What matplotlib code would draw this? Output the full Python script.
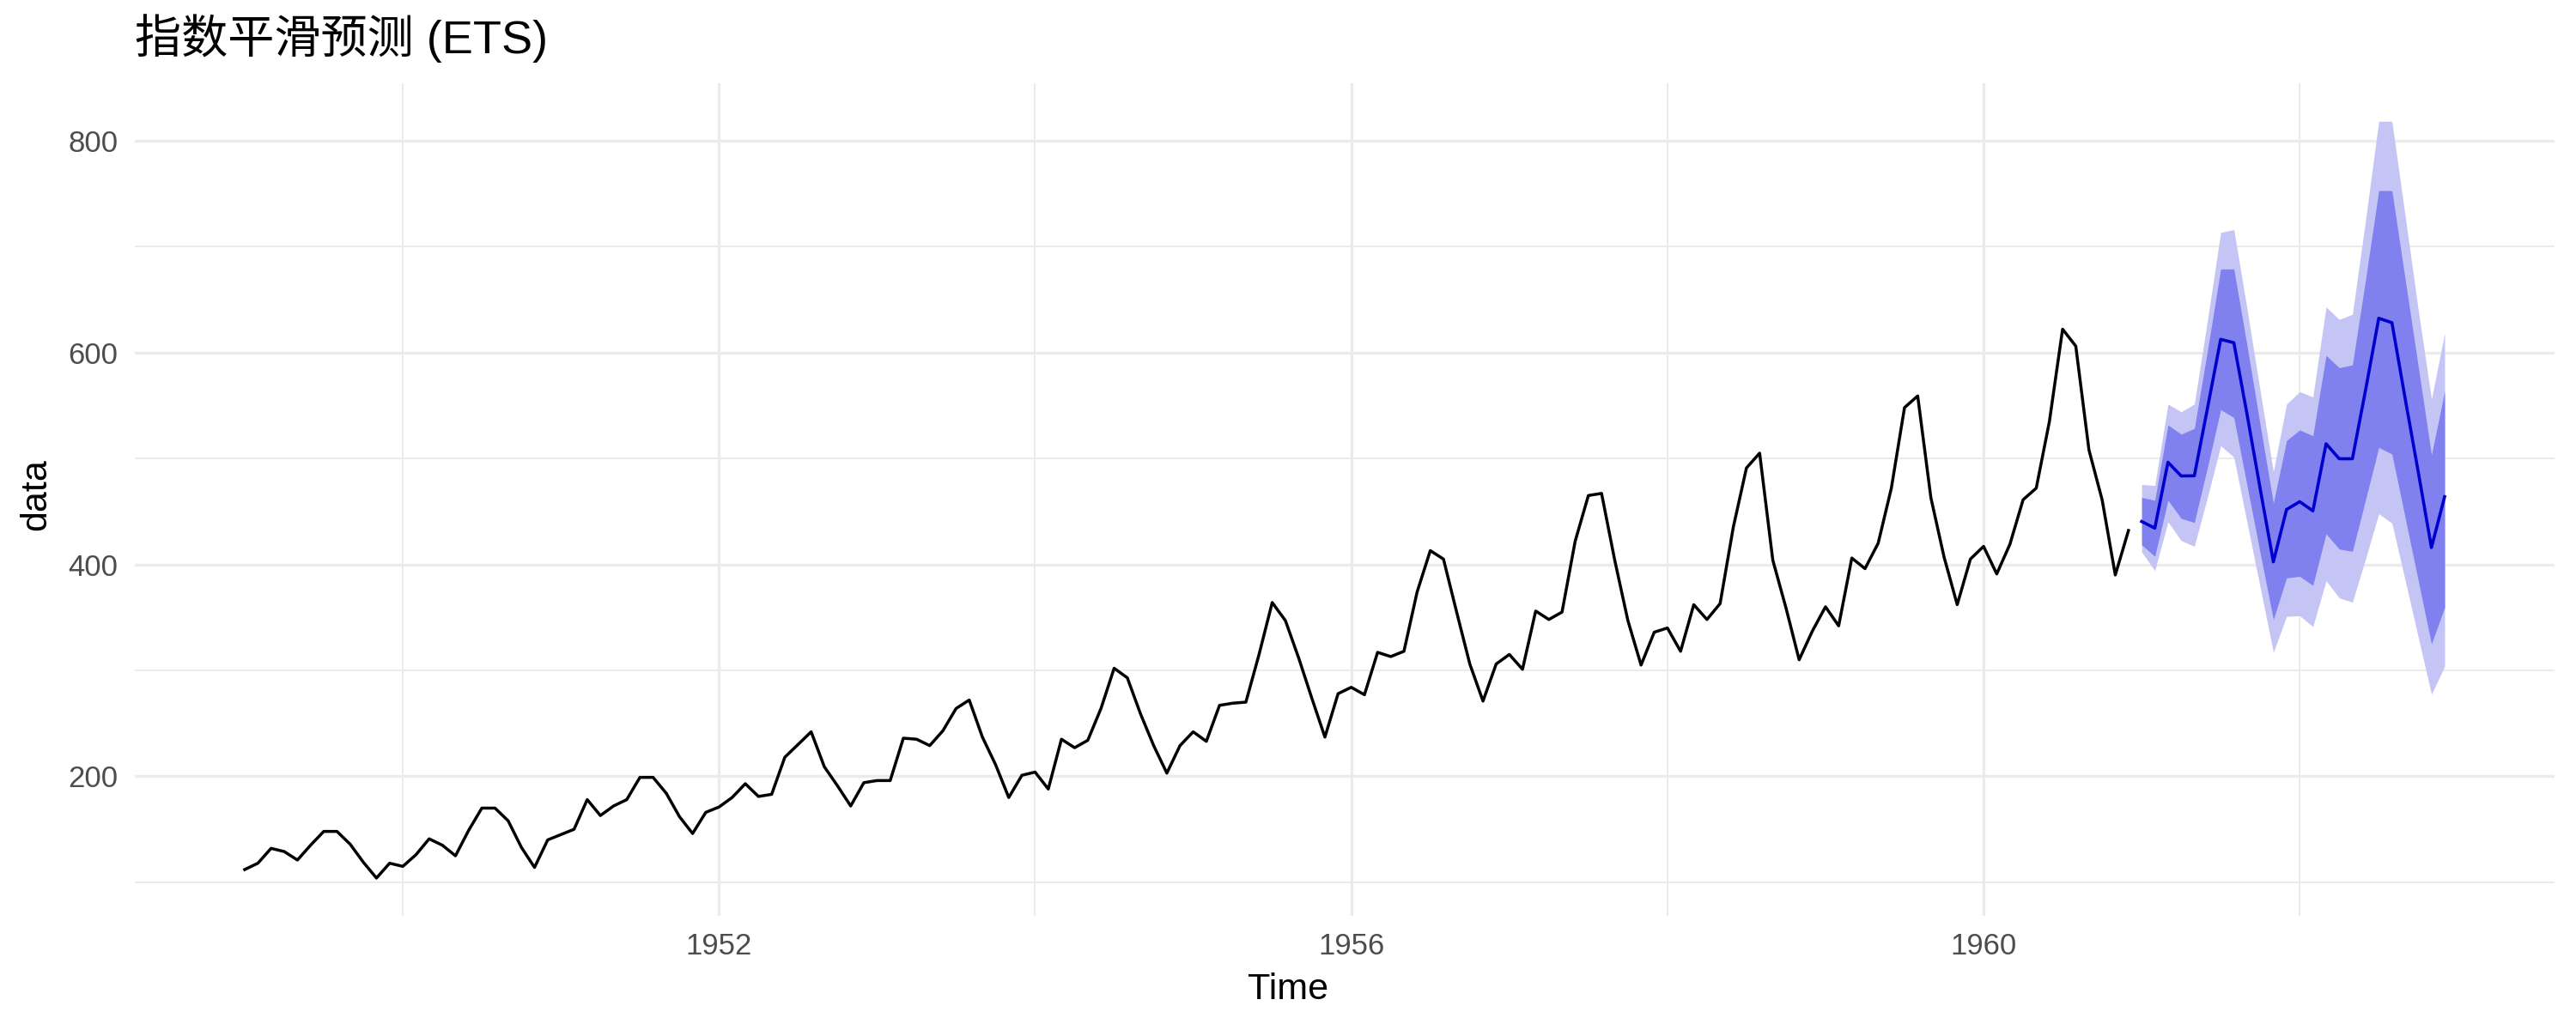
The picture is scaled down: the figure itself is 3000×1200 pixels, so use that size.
import numpy as np
import matplotlib
matplotlib.use("Agg")
import matplotlib.pyplot as plt
from matplotlib.ticker import FixedLocator

plt.rcParams['font.family'] = ['Liberation Sans', 'Noto Sans CJK SC', 'DejaVu Sans']

# monthly passengers 1949-1960
passengers = [
    112, 118, 132, 129, 121, 135, 148, 148, 136, 119, 104, 118,
    115, 126, 141, 135, 125, 149, 170, 170, 158, 133, 114, 140,
    145, 150, 178, 163, 172, 178, 199, 199, 184, 162, 146, 166,
    171, 180, 193, 181, 183, 218, 230, 242, 209, 191, 172, 194,
    196, 196, 236, 235, 229, 243, 264, 272, 237, 211, 180, 201,
    204, 188, 235, 227, 234, 264, 302, 293, 259, 229, 203, 229,
    242, 233, 267, 269, 270, 315, 364, 347, 312, 274, 237, 278,
    284, 277, 317, 313, 318, 374, 413, 405, 355, 306, 271, 306,
    315, 301, 356, 348, 355, 422, 465, 467, 404, 347, 305, 336,
    340, 318, 362, 348, 363, 435, 491, 505, 404, 359, 310, 337,
    360, 342, 406, 396, 420, 472, 548, 559, 463, 407, 362, 405,
    417, 391, 419, 461, 472, 535, 622, 606, 508, 461, 390, 432,
]
start_year = 1949
fc_start = 1961

# 24 month ETS forecast
fc_mean = [440.5, 434.2, 496.4, 483.5, 483.6, 547.5, 612.4, 609.2, 541.8, 471.3, 402.4, 451.8,
           459.2, 450.5, 513.8, 499.7, 499.7, 564.6, 632.3, 628.1, 556.8, 487.1, 415.9, 463.9]
lo80 = [418.5, 407.6, 460.5, 443.4, 439.6, 491.7, 546.0, 538.6, 474.6, 410.6, 347.9, 387.3,
        388.7, 380.2, 428.9, 414.5, 412.3, 461.2, 510.4, 504.1, 444.4, 384.6, 324.9, 359.4]
hi80 = [463.2, 460.5, 531.6, 522.9, 528.3, 601.8, 678.8, 678.8, 606.7, 531.6, 457.8, 516.9,
        526.9, 521.4, 597.3, 585.6, 588.3, 668.9, 752.8, 752.8, 669.7, 586.7, 503.3, 563.3]
lo95 = [411.8, 394.1, 440.2, 422.5, 417.1, 463.5, 512.0, 501.2, 439.7, 378.3, 317.0, 351.0,
        351.5, 341.3, 384.6, 368.4, 364.3, 405.3, 447.9, 438.9, 385.2, 331.2, 277.5, 303.8]
hi95 = [475.4, 474.5, 551.3, 544.0, 551.3, 630.6, 713.3, 716.0, 641.3, 563.5, 487.6, 551.3,
        563.0, 558.0, 642.9, 631.2, 636.0, 725.1, 818.2, 818.2, 729.2, 640.1, 556.0, 618.2]

x_major = [1952, 1956, 1960]
x_minor = [1950, 1954, 1958, 1962]
y_major = [200, 400, 600, 800]
y_minor = [100, 300, 500, 700]

t_hist = start_year + np.arange(len(passengers)) / 12
t_fc = fc_start + np.arange(len(fc_mean)) / 12

fig = plt.figure(figsize=(15, 6), dpi=200)
ax = fig.add_axes([0.0523, 0.1108, 0.9394, 0.8082])

ax.fill_between(t_fc, lo95, hi95, color='#C5C5F5', linewidth=0, zorder=2)
ax.fill_between(t_fc, lo80, hi80, color='#8080EE', linewidth=0, zorder=3)
ax.plot(t_hist, passengers, color='black', lw=1.25, zorder=4)
ax.plot(t_fc, fc_mean, color='#0000CD', lw=1.3, zorder=5)

# ggplot style 5% expansion
x_lo, x_hi = t_hist[0], t_fc[-1]
y_lo = min(min(passengers), min(lo95))
y_hi = max(max(passengers), max(hi95))
ax.set_xlim(x_lo - 0.05 * (x_hi - x_lo), x_hi + 0.05 * (x_hi - x_lo))
ax.set_ylim(y_lo - 0.05 * (y_hi - y_lo), y_hi + 0.05 * (y_hi - y_lo))

ax.xaxis.set_major_locator(FixedLocator(x_major))
ax.xaxis.set_minor_locator(FixedLocator(x_minor))
ax.yaxis.set_major_locator(FixedLocator(y_major))
ax.yaxis.set_minor_locator(FixedLocator(y_minor))
ax.set_xticklabels([str(v) for v in x_major])
ax.set_yticklabels([str(v) for v in y_major])

ax.grid(which='major', color='#EBEBEB', lw=1.2, zorder=0)
ax.grid(which='minor', color='#EBEBEB', lw=0.7, zorder=0)
ax.set_axisbelow(True)
for s in ax.spines.values():
    s.set_visible(False)
ax.tick_params(which='both', length=0)
ax.tick_params(which='major', labelsize=12.5, labelcolor='#4D4D4D', pad=7)

fig.text(0.0523, 0.963, '指数平滑预测 (ETS)', fontsize=19.5, ha='left', va='center')
fig.text(0.5, 0.039, 'Time', fontsize=15.5, ha='center', va='center')
fig.text(0.014, 0.52, 'data', fontsize=15.5, ha='center', va='center', rotation=90)

fig.savefig('out.png', dpi=200, facecolor='white')
